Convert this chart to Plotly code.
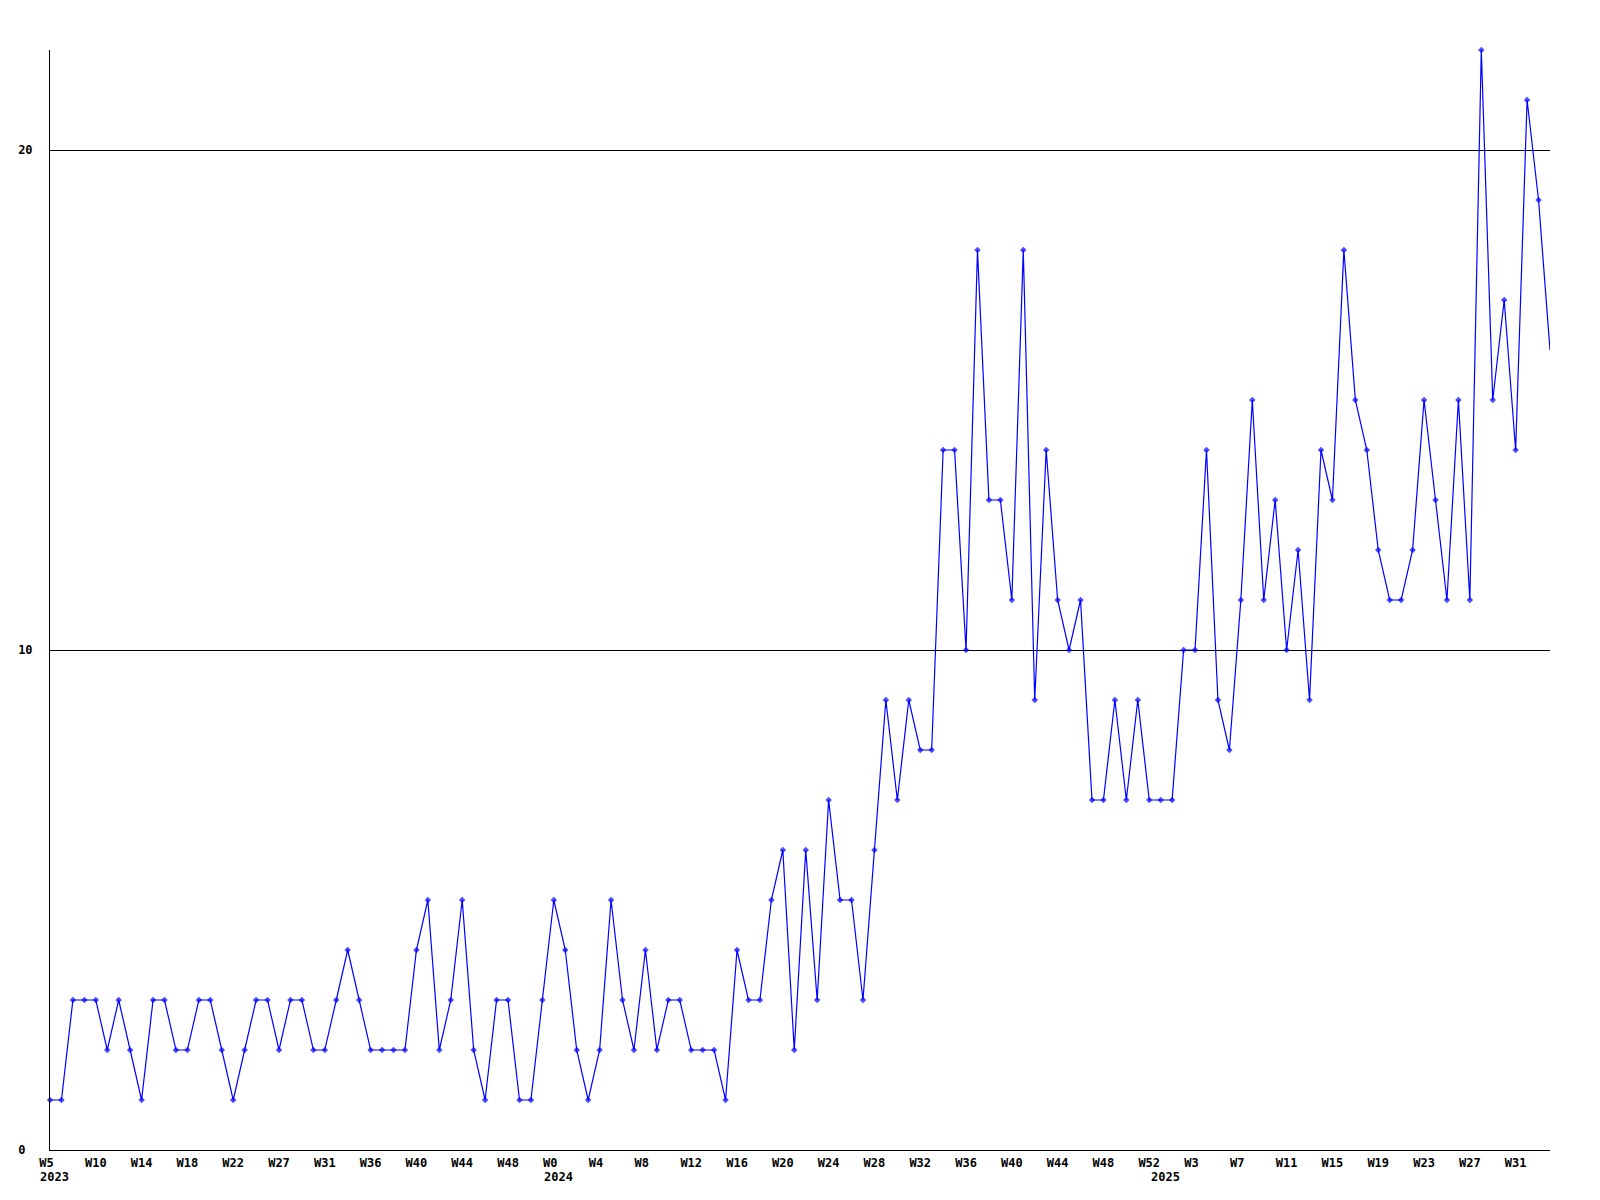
import plotly.graph_objects as go

# Weekly values, 2023 W5 .. 2025 W33
values = [
    1, 1, 3, 3, 3, 2, 3, 2, 1, 3,
    3, 2, 2, 3, 3, 2, 1, 2, 3, 3,
    2, 3, 3, 2, 2, 3, 4, 3, 2, 2,
    2, 2, 4, 5, 2, 3, 5, 2, 1, 3,
    3, 1, 1, 3, 5, 4, 2, 1, 2, 5,
    3, 2, 4, 2, 3, 3, 2, 2, 2, 1,
    4, 3, 3, 5, 6, 2, 6, 3, 7, 5,
    5, 3, 6, 9, 7, 9, 8, 8, 14, 14,
    10, 18, 13, 13, 11, 18, 9, 14, 11, 10,
    11, 7, 7, 9, 7, 9, 7, 7, 7, 10,
    10, 14, 9, 8, 11, 15, 11, 13, 10, 12,
    9, 14, 13, 18, 15, 14, 12, 11, 11, 12,
    15, 13, 11, 15, 11, 22, 15, 17, 14, 21,
    19, 16,
]

week_labels = [
    "W5", "W10", "W14", "W18", "W22", "W27", "W31", "W36", "W40", "W44", "W48",
    "W0", "W4", "W8", "W12", "W16", "W20", "W24", "W28", "W32", "W36", "W40",
    "W44", "W48", "W52", "W3", "W7", "W11", "W15", "W19", "W23", "W27", "W31",
]
label_step = 4

year_labels = ["2023", "2024", "2025"]
year_start_index = [0, 44, 97]

y_tick_values = [0, 10, 20]

n = len(values)
x = list(range(n))
NB = "\u00a0"

tickvals = [i * label_step for i in range(len(week_labels))]
ticktext = [lbl if len(lbl) >= 3 else lbl + NB for lbl in week_labels]

marker_sizes = [5] * (n - 1) + [0]

FONT = dict(family="DejaVu Sans Mono", size=12, color="black")

fig = go.Figure()
fig.add_trace(go.Scatter(
    x=x, y=values, mode="lines+markers",
    line=dict(color="#0000ff", width=1.2),
    marker=dict(symbol="diamond", size=marker_sizes, color="#0000ff",
                line=dict(width=0)),
    cliponaxis=False, hoverinfo="skip", showlegend=False,
))

annotations = []
for lbl, idx in zip(year_labels, year_start_index):
    annotations.append(dict(
        x=idx, xref="x", y=0, yref="paper",
        text="<b>" + lbl + "</b>", showarrow=False,
        xanchor="left", yanchor="middle",
        xshift=-12, yshift=-27, font=FONT,
    ))

fig.update_layout(
    width=1600, height=1200,
    margin=dict(l=42, r=58, t=42, b=58, autoexpand=False),
    paper_bgcolor="white", plot_bgcolor="white",
    font=FONT,
    annotations=annotations,
    xaxis=dict(
        range=[0, n - 1], tickvals=tickvals,
        ticktext=["<b>" + t + "</b>" for t in ticktext],
        showgrid=False, zeroline=False,
        showline=True, linecolor="black", linewidth=1,
        ticks="", ticklabelstandoff=2,
        tickfont=FONT, fixedrange=True,
    ),
    yaxis=dict(
        range=[0, 22], tickvals=y_tick_values,
        ticktext=["<b>" + (str(v) + NB if v < 10 else str(v)) + "</b>" for v in y_tick_values],
        showgrid=True, gridcolor="black", gridwidth=1,
        zeroline=False,
        showline=True, linecolor="black", linewidth=1,
        ticks="", ticklabelstandoff=14,
        tickfont=FONT, fixedrange=True,
    ),
)

fig.write_html("out.html")
